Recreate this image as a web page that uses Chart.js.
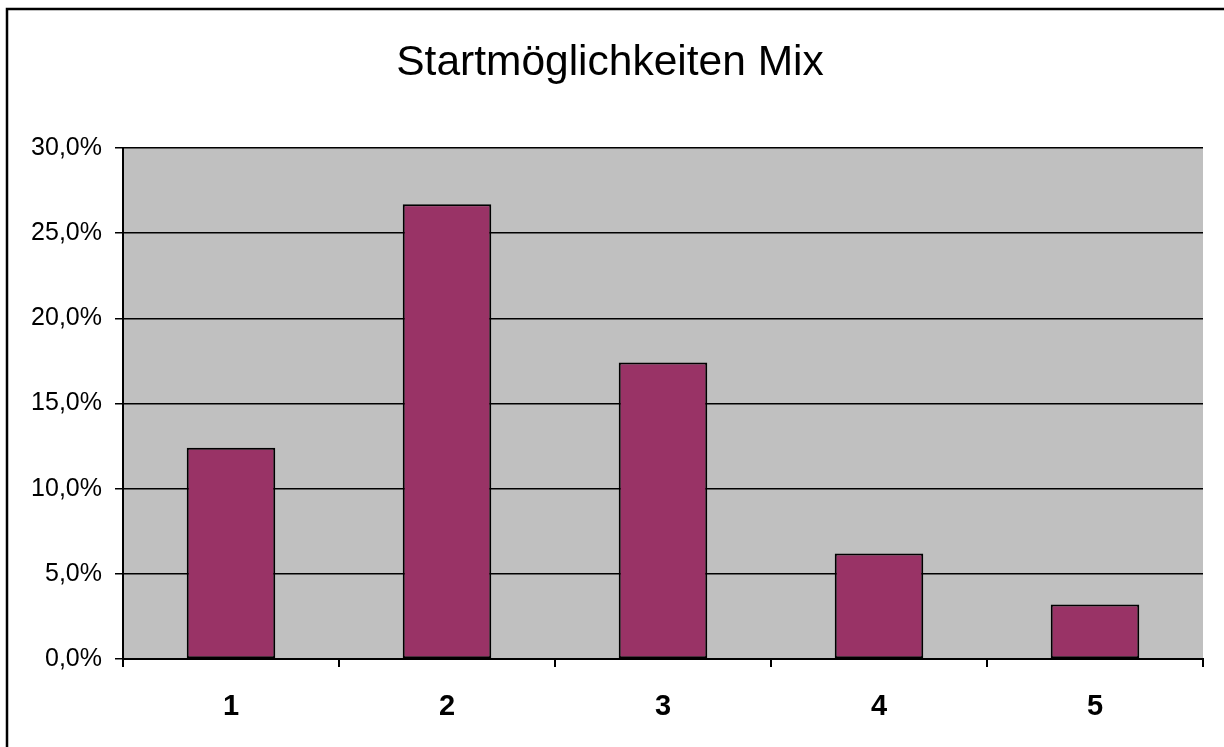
<!DOCTYPE html>
<html>
<head>
<meta charset="utf-8">
<script src="https://cdn.jsdelivr.net/npm/chart.js@4/dist/chart.umd.min.js"></script>
<style>
    html, body { margin: 0; padding: 0; background: #ffffff; }
    canvas { display: block; }
</style>
</head>
<body>
<canvas id="chart" width="1224" height="747"></canvas>
<script>
var categories = ['1', '2', '3', '4', '5'];
var values = [12.4, 26.7, 17.4, 6.2, 3.2];
var yTicks = [0, 5, 10, 15, 20, 25, 30];

// grey plot area + the cut-off outer frame (top and left edges only)
var frame = {
    id: 'frame',
    beforeDraw: function (chart) {
        var a = chart.chartArea;
        var ctx = chart.ctx;
        ctx.save();
        ctx.fillStyle = '#c0c0c0';
        ctx.fillRect(a.left, a.top, a.right - a.left, a.bottom - a.top);
        ctx.restore();
    },
    afterDraw: function (chart) {
        var ctx = chart.ctx;
        ctx.save();
        ctx.strokeStyle = '#000000';
        ctx.lineWidth = 2.5;
        ctx.beginPath();
        ctx.moveTo(7, chart.height);
        ctx.lineTo(7, 9);
        ctx.lineTo(chart.width, 9);
        ctx.stroke();
        ctx.restore();
    }
};

var ctx = document.getElementById('chart').getContext('2d');

var chart = new Chart(ctx, {
    type: 'bar',
    data: {
        labels: categories,
        datasets: [{
            data: values,
            yAxisID: 'y',
            backgroundColor: '#993366',
            borderColor: '#000000',
            borderWidth: 2,
            borderSkipped: false,
            barPercentage: 0.41,
            categoryPercentage: 1
        }]
    },
    options: {
        responsive: false,
        animation: false,
        devicePixelRatio: 1,
        layout: {
            padding: { left: 0, right: 4, top: 0, bottom: 0 }
        },
        scales: {
            x: {
                offset: true,
                afterFit: function (scale) { scale.height = 88; },
                grid: {
                    offset: true,
                    drawOnChartArea: false,
                    color: '#000000',
                    lineWidth: 2,
                    tickLength: 8
                },
                border: { color: '#000000', width: 2 },
                ticks: {
                    color: '#000000',
                    padding: 23,
                    font: { family: '"Liberation Sans", Arial, sans-serif', size: 29, weight: 'bold' }
                }
            },
            y: {
                min: yTicks[0],
                max: yTicks[yTicks.length - 1],
                afterFit: function (scale) { scale.width = 123; },
                afterBuildTicks: function (scale) {
                    scale.ticks = yTicks.map(function (v) { return { value: v }; });
                },
                grid: {
                    color: '#000000',
                    lineWidth: 1.5,
                    tickLength: 8
                },
                border: { color: '#000000', width: 2 },
                ticks: {
                    color: '#000000',
                    padding: 13,
                    font: { family: '"Liberation Sans", Arial, sans-serif', size: 25 },
                    callback: function (v) {
                        return v.toFixed(1).replace('.', ',') + '%';
                    }
                }
            },
            // empty spacer so the title centres on the whole page
            spacer: {
                type: 'linear',
                position: 'right',
                afterFit: function (scale) { scale.width = 17; },
                grid: { display: false },
                border: { display: false },
                ticks: { display: false }
            }
        },
        plugins: {
            legend: { display: false },
            tooltip: { enabled: false },
            title: {
                display: true,
                text: 'Startmöglichkeiten Mix',
                color: '#000000',
                font: { family: '"Liberation Sans", Arial, sans-serif', size: 42.5, weight: 'normal' },
                padding: { top: 38, bottom: 59 }
            }
        }
    },
    plugins: [frame]
});
</script>
</body>
</html>
